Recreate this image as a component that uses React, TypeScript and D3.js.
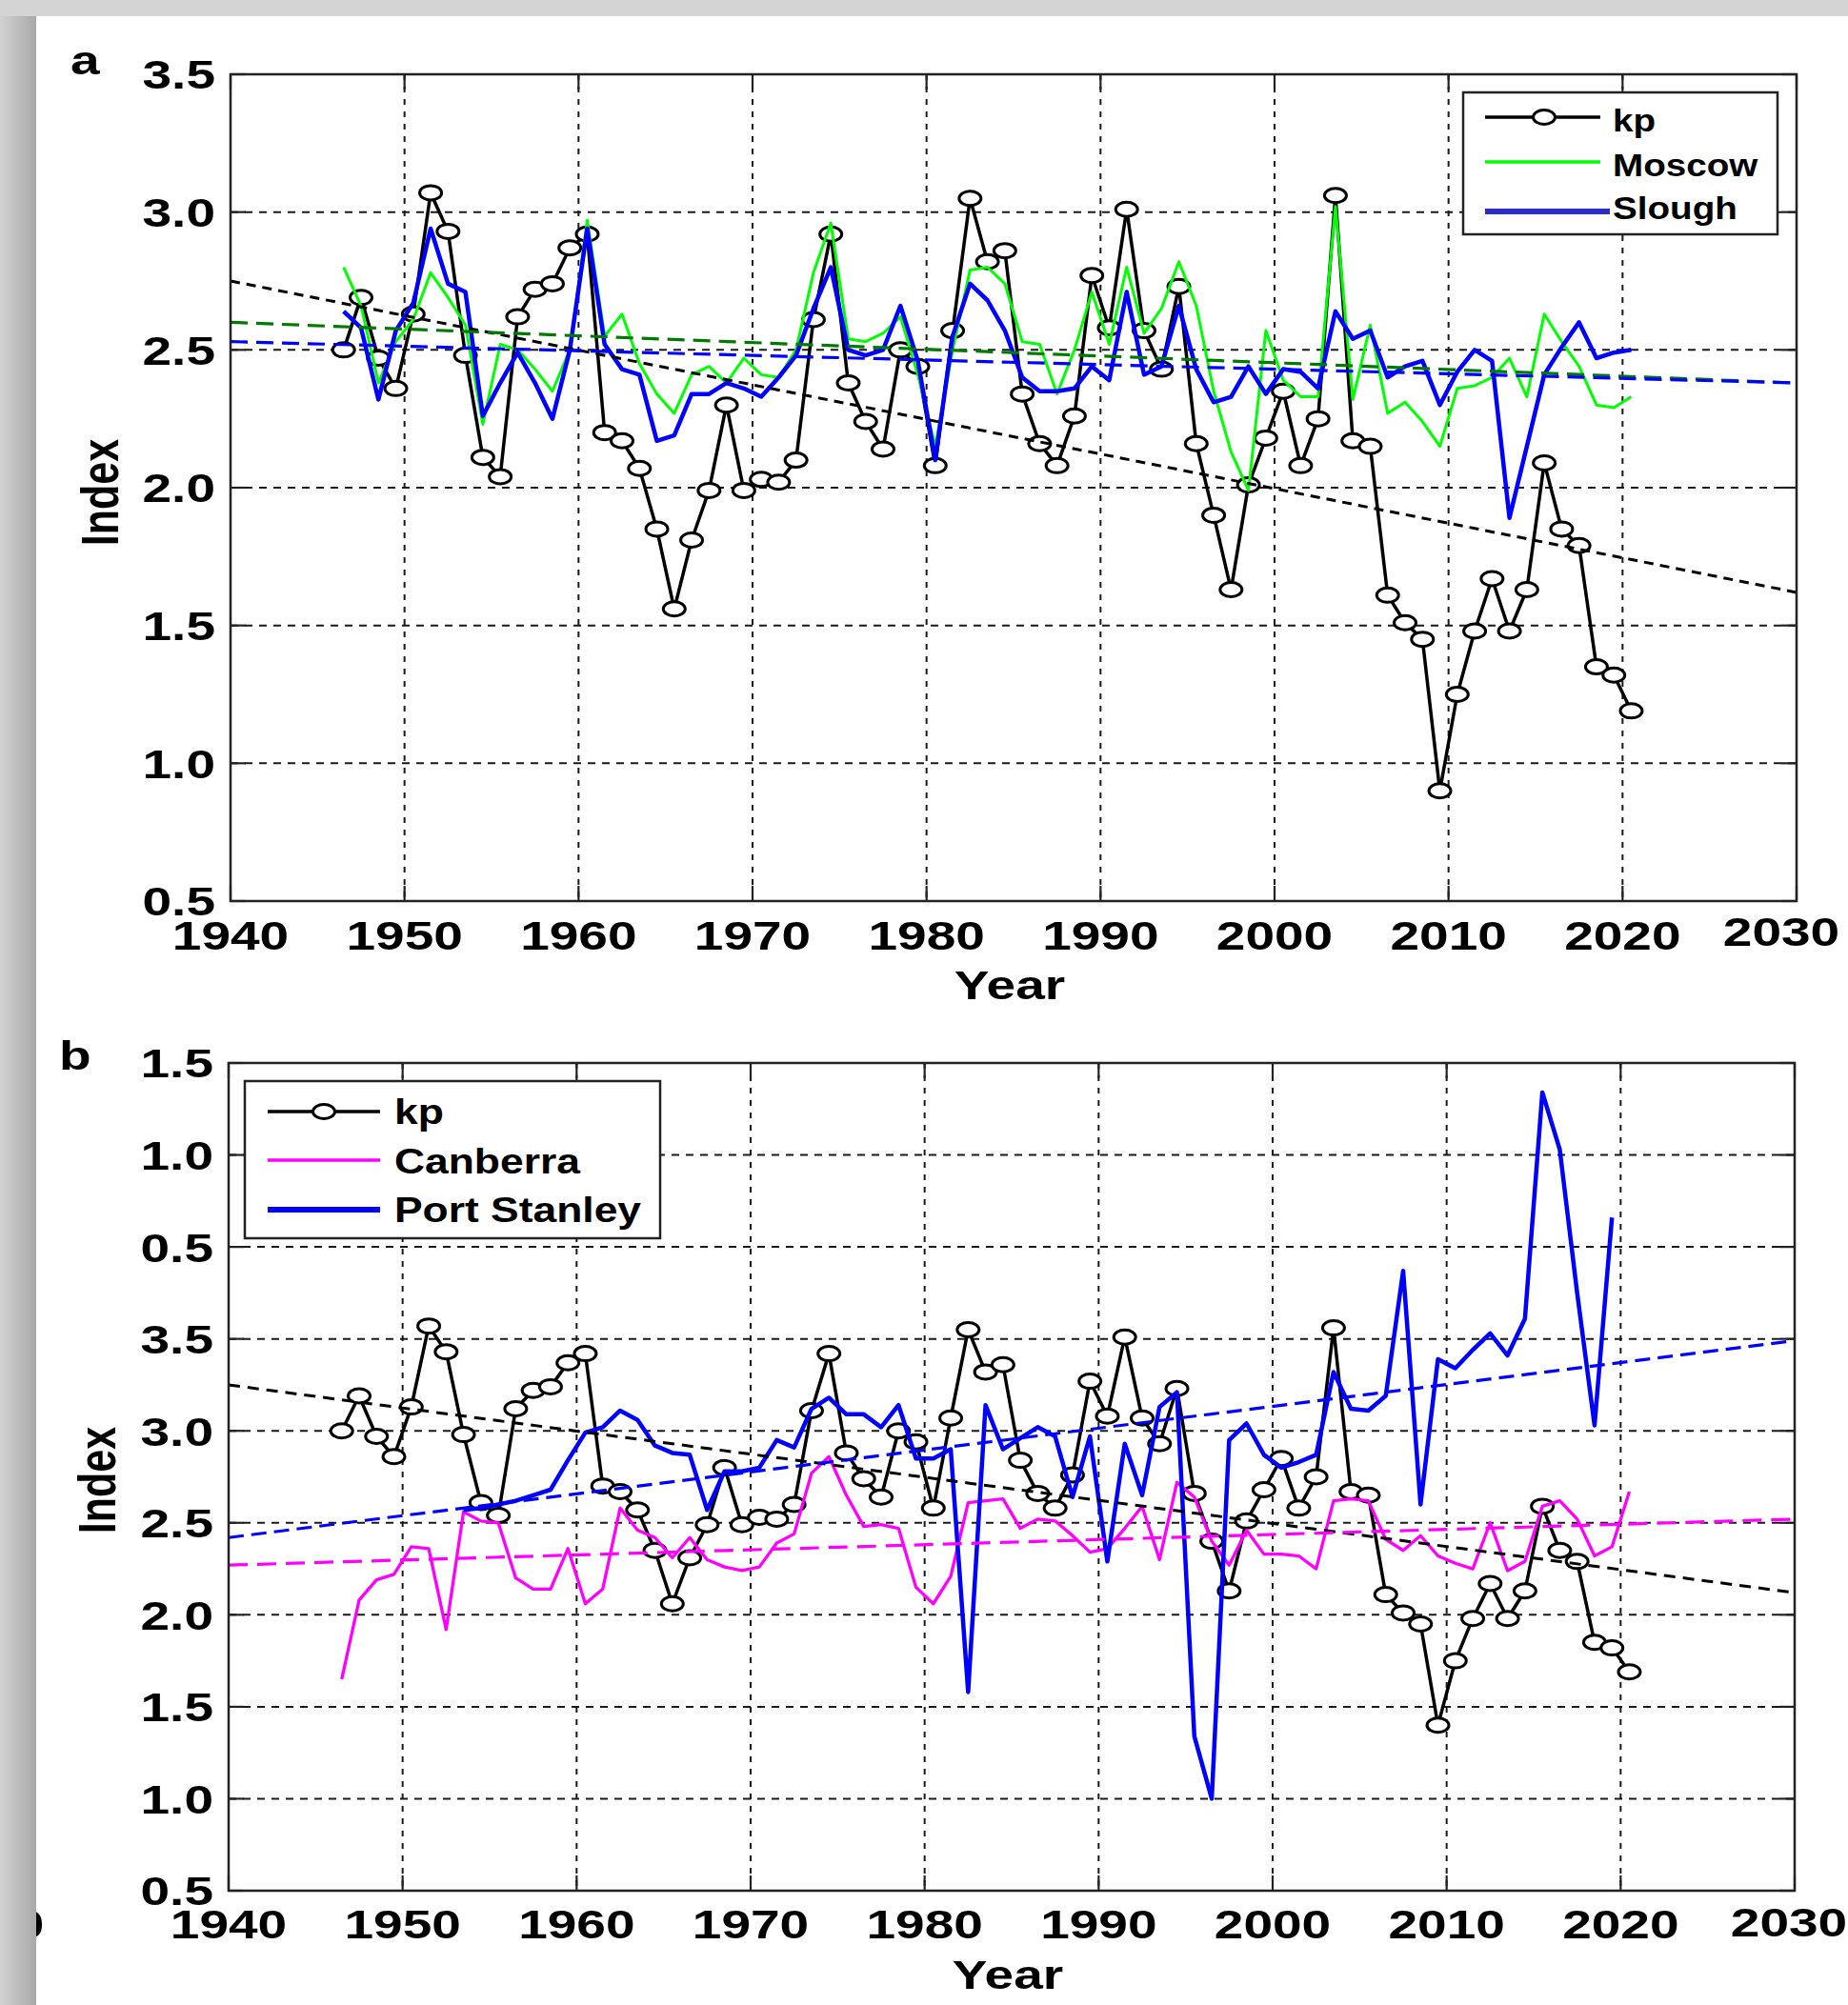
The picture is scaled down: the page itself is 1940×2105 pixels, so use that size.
import React from 'react';
import * as d3 from 'd3';

// ---------- data ----------
const years = [
  1946, 1947, 1948, 1949, 1950, 1951, 1952, 1953, 1954, 1955,
  1956, 1957, 1958, 1959, 1960, 1961, 1962, 1963, 1964, 1965,
  1966, 1967, 1968, 1969, 1970, 1971, 1972, 1973, 1974, 1975,
  1976, 1977, 1978, 1979, 1980, 1981, 1982, 1983, 1984, 1985,
  1986, 1987, 1988, 1989, 1990, 1991, 1992, 1993, 1994, 1995,
  1996, 1997, 1998, 1999, 2000, 2001, 2002, 2003, 2004, 2005,
  2006, 2007, 2008, 2009, 2010, 2011, 2012, 2013, 2014, 2015,
  2016, 2017, 2018, 2019, 2020,
];

const kp = [
  2.50, 2.69, 2.47, 2.36, 2.63, 3.07, 2.93, 2.48, 2.11, 2.04,
  2.62, 2.72, 2.74, 2.87, 2.92, 2.20, 2.17, 2.07, 1.85, 1.56,
  1.81, 1.99, 2.30, 1.99, 2.03, 2.02, 2.10, 2.61, 2.92, 2.38,
  2.24, 2.14, 2.50, 2.44, 2.08, 2.57, 3.05, 2.82, 2.86, 2.34,
  2.16, 2.08, 2.26, 2.77, 2.58, 3.01, 2.57, 2.43, 2.73, 2.16,
  1.90, 1.63, 2.01, 2.18, 2.35, 2.08, 2.25, 3.06, 2.17, 2.15,
  1.61, 1.51, 1.45, 0.90, 1.25, 1.48, 1.67, 1.48, 1.63, 2.09,
  1.85, 1.79, 1.35, 1.32, 1.19,
];

const moscow = [
  2.80, 2.66, 2.38, 2.53, 2.61, 2.78, 2.69, 2.59, 2.23, 2.52,
  2.50, 2.43, 2.35, 2.50, 2.97, 2.55, 2.63, 2.45, 2.34, 2.27,
  2.41, 2.44, 2.38, 2.47, 2.41, 2.40, 2.50, 2.78, 2.96, 2.54,
  2.53, 2.56, 2.62, 2.41, 2.15, 2.50, 2.79, 2.80, 2.74, 2.53,
  2.52, 2.34, 2.50, 2.71, 2.52, 2.80, 2.56, 2.65, 2.82, 2.66,
  2.35, 2.13, 1.99, 2.57, 2.39, 2.33, 2.33, 3.02, 2.32, 2.59,
  2.27, 2.31, 2.24, 2.15, 2.36, 2.37, 2.40, 2.47, 2.33, 2.63,
  2.53, 2.44, 2.30, 2.29, 2.33,
];

const slough = [
  2.64, 2.58, 2.32, 2.57, 2.67, 2.94, 2.74, 2.71, 2.26, 2.38,
  2.49, 2.38, 2.25, 2.50, 2.94, 2.52, 2.43, 2.41, 2.17, 2.19,
  2.34, 2.34, 2.38, 2.36, 2.33, 2.40, 2.48, 2.65, 2.80, 2.50,
  2.48, 2.50, 2.66, 2.46, 2.10, 2.55, 2.74, 2.68, 2.57, 2.40,
  2.35, 2.35, 2.36, 2.44, 2.39, 2.71, 2.41, 2.44, 2.66, 2.43,
  2.31, 2.33, 2.44, 2.34, 2.43, 2.42, 2.36, 2.64, 2.54, 2.57,
  2.40, 2.44, 2.46, 2.30, 2.42, 2.50, 2.46, 1.89, 2.15, 2.41,
  2.51, 2.60, 2.47, 2.49, 2.50,
];

const canberra = [
  1.65, 2.08, 2.19, 2.22, 2.37, 2.36, 1.92, 2.56, 2.51, 2.50,
  2.20, 2.14, 2.14, 2.36, 2.06, 2.14, 2.58, 2.46, 2.42, 2.31,
  2.42, 2.30, 2.26, 2.24, 2.26, 2.39, 2.44, 2.77, 2.86, 2.65,
  2.48, 2.49, 2.47, 2.15, 2.06, 2.21, 2.61, 2.62, 2.63, 2.47,
  2.52, 2.51, 2.43, 2.34, 2.36, 2.47, 2.59, 2.30, 2.72, 2.64,
  2.40, 2.27, 2.46, 2.33, 2.33, 2.32, 2.25, 2.62, 2.63, 2.62,
  2.41, 2.35, 2.43, 2.32, 2.28, 2.25, 2.50, 2.24, 2.29, 2.59,
  2.62, 2.52, 2.32, 2.37, 2.67,
];

// Port Stanley covers 1953..2019
const stanleyYears = years.slice(7, 74);
const portStanley = [
  2.57, 2.58, 2.60, 2.62, 2.65, 2.68, 2.84, 2.99, 3.02, 3.11,
  3.06, 2.92, 2.88, 2.87, 2.57, 2.78, 2.78, 2.80, 2.95, 2.91,
  3.12, 3.18, 3.09, 3.09, 3.02, 3.14, 2.85, 2.85, 2.90, 1.58,
  3.14, 2.90, 2.96, 3.02, 2.97, 2.64, 2.97, 2.29, 2.93, 2.65,
  3.13, 3.21, 1.34, 1.00, 2.95, 3.04, 2.87, 2.80, 2.83, 2.87,
  3.32, 3.12, 3.11, 3.19, 3.87, 2.60, 3.39, 3.34, 3.44, 3.53,
  3.41, 3.61, 4.84, 4.53, 3.75, 3.03, 4.16,
];

// kp is drawn 0.5 higher in panel b
const kpOffsetB = 0.5;

// linear trend lines (values at 1940 and 2030)
const trendYears = [1940, 2030];
const kpTrendA = [2.75, 1.62];
const moscowTrend = [2.60, 2.38];
const sloughTrend = [2.53, 2.38];
const kpTrendB = [3.25, 2.12];
const canberraTrend = [2.27, 2.52];
const stanleyTrend = [2.42, 3.49];

const xTicks = [1940, 1950, 1960, 1970, 1980, 1990, 2000, 2010, 2020, 2030];
const yTicksA = [0.5, 1.0, 1.5, 2.0, 2.5, 3.0, 3.5];
const yTickLabelsA = ['0.5', '1.0', '1.5', '2.0', '2.5', '3.0', '3.5'];
const yTicksB = [0.5, 1.0, 1.5, 2.0, 2.5, 3.0, 3.5, 4.0, 4.5, 5.0];
const yTickLabelsB = ['0.5', '1.0', '1.5', '2.0', '2.5', '3.0', '3.5', '0.5', '1.0', '1.5'];

const legendA = ['kp', 'Moscow', 'Slough'];
const legendB = ['kp', 'Canberra', 'Port Stanley'];

// ---------- styling ----------
const FONT = "'Liberation Sans', Arial, Helvetica, sans-serif";
const SX = 1.28;
const TICK_FS = 43;
const MID = 0.5; // points plotted at mid-year

type Txt = {
  x: number; y: number; size?: number; anchor?: string; sx?: number; rot?: boolean; children: React.ReactNode;
};
function T({ x, y, size = TICK_FS, anchor = 'middle', sx = SX, rot = false, children }: Txt) {
  const tr = `translate(${x},${y}) scale(${sx},1)` + (rot ? ' rotate(-90)' : '');
  return (
    <text transform={tr} textAnchor={anchor} fontSize={size} fontWeight="bold" fontFamily={FONT} fill="#000">
      {children}
    </text>
  );
}

type Series = {
  xs: number[]; ys: number[]; color: string; width: number; markers?: boolean;
};
type Trend = { ys: number[]; color: string; width: number; dash: string };
type LegendItem = { label: string; color: string; width: number; marker?: boolean; x2?: number };

type PanelProps = {
  box: { left: number; right: number; top: number; bottom: number };
  yDomain: [number, number];
  yTicks: number[];
  yLabels: string[];
  series: Series[];
  trends: Trend[];
  legend: {
    x: number; y: number; w: number; h: number; lx1: number; lx2: number; mx: number; tx: number;
    rows: number[]; bases: number[]; fs: number; sx: number; items: LegendItem[];
  };
  letter: string; letterX: number; letterY: number;
  xLabelBase: number; yearBase: number; indexX: number; indexY: number;
  lastDx: number; lastDy: number;
};

function Panel(p: PanelProps) {
  const { box } = p;
  const x = d3.scaleLinear().domain([1940, 2030]).range([box.left, box.right]);
  const y = d3.scaleLinear().domain(p.yDomain).range([box.bottom, box.top]);
  const line = d3
    .line<[number, number]>()
    .x((d) => x(d[0]))
    .y((d) => y(d[1]));
  const TL = 16;
  const L = p.legend;
  return (
    <g>
      {/* grid */}
      {xTicks.slice(1, -1).map((t) => (
        <line key={'gx' + t} x1={x(t)} x2={x(t)} y1={box.top} y2={box.bottom} stroke="#1a1a1a" strokeWidth={2} strokeDasharray="6 7" />
      ))}
      {p.yTicks.slice(1, -1).map((t) => (
        <line key={'gy' + t} x1={box.left} x2={box.right} y1={y(t)} y2={y(t)} stroke="#1a1a1a" strokeWidth={2} strokeDasharray="8 7" />
      ))}
      {/* ticks */}
      {xTicks.map((t) => (
        <g key={'tx' + t}>
          <line x1={x(t)} x2={x(t)} y1={box.bottom} y2={box.bottom - TL} stroke="#222" strokeWidth={2.2} />
          <line x1={x(t)} x2={x(t)} y1={box.top} y2={box.top + TL} stroke="#222" strokeWidth={2.2} />
        </g>
      ))}
      {p.yTicks.map((t) => (
        <g key={'ty' + t}>
          <line x1={box.left} x2={box.left + TL} y1={y(t)} y2={y(t)} stroke="#222" strokeWidth={2.2} />
          <line x1={box.right} x2={box.right - TL} y1={y(t)} y2={y(t)} stroke="#222" strokeWidth={2.2} />
        </g>
      ))}
      {/* series */}
      {p.series.map((s, i) => {
        const pts: [number, number][] = s.xs.map((xv, j) => [xv + MID, s.ys[j]]);
        return (
          <g key={'s' + i}>
            <path d={line(pts) || ''} fill="none" stroke={s.color} strokeWidth={s.width} strokeLinejoin="round" />
            {s.markers &&
              pts.map((d, j) => (
                <ellipse key={j} cx={x(d[0])} cy={y(d[1])} rx={11.5} ry={7.5} fill="#fff" stroke={s.color} strokeWidth={3} />
              ))}
          </g>
        );
      })}
      {/* trends */}
      {p.trends.map((t, i) => {
        const pts: [number, number][] = trendYears.map((yr, j) => [yr, t.ys[j]]);
        return <path key={'t' + i} d={line(pts) || ''} fill="none" stroke={t.color} strokeWidth={t.width} strokeDasharray={t.dash} />;
      })}
      {/* box */}
      <rect x={box.left} y={box.top} width={box.right - box.left} height={box.bottom - box.top} fill="none" stroke="#222" strokeWidth={2.5} />
      {/* legend */}
      <rect x={L.x} y={L.y} width={L.w} height={L.h} fill="#fff" stroke="#222" strokeWidth={2.5} />
      {L.items.map((it, i) => (
        <g key={'l' + i}>
          <line x1={L.lx1} x2={it.x2 ?? L.lx2} y1={L.rows[i]} y2={L.rows[i]} stroke={it.color} strokeWidth={it.width} />
          {it.marker && <ellipse cx={L.mx} cy={L.rows[i]} rx={11.5} ry={7.5} fill="#fff" stroke={it.color} strokeWidth={3} />}
          <T x={L.tx} y={L.bases[i]} size={L.fs} sx={L.sx} anchor="start">
            {it.label}
          </T>
        </g>
      ))}
      {/* tick labels */}
      {xTicks.map((t, i) => (
        <T key={'xl' + t} x={x(t) + (i === xTicks.length - 1 ? p.lastDx : 0)} y={p.xLabelBase + (i === xTicks.length - 1 ? p.lastDy : 0)}>
          {String(t)}
        </T>
      ))}
      {p.yTicks.map((t, i) => (
        <T key={'yl' + i} x={box.left - 16} y={y(t) + 0.358 * TICK_FS} anchor="end">
          {p.yLabels[i]}
        </T>
      ))}
      <T x={(box.left + box.right) / 2 - 4} y={p.yearBase}>Year</T>
      <T x={p.indexX} y={p.indexY} rot>Index</T>
      <T x={p.letterX} y={p.letterY} anchor="start">{p.letter}</T>
    </g>
  );
}

export default function App() {
  const W = 1940;
  const H = 2105;
  const kpB = kp.map((v) => v + kpOffsetB);
  return (
    <svg width={W} height={H} viewBox={`0 0 ${W} ${H}`} style={{ position: 'absolute', left: 0, top: 0, background: '#fff' }}>
      <defs>
        <linearGradient id="leftStrip" x1="0" x2="1" y1="0" y2="0">
          <stop offset="0" stopColor="#d2d2d2" />
          <stop offset="1" stopColor="#a8a8a8" />
        </linearGradient>
      </defs>
      <rect x={0} y={0} width={W} height={H} fill="#fff" />
      <Panel
        box={{ left: 242, right: 1886, top: 78, bottom: 946 }}
        yDomain={[0.5, 3.5]}
        yTicks={yTicksA}
        yLabels={yTickLabelsA}
        series={[
          { xs: years, ys: kp, color: '#000', width: 3.5, markers: true },
          { xs: years, ys: moscow, color: '#00ff00', width: 3 },
          { xs: years, ys: slough, color: '#0000ff', width: 4.5 },
        ]}
        trends={[
          { ys: kpTrendA, color: '#000', width: 3, dash: '10 7' },
          { ys: moscowTrend, color: '#007a00', width: 3.2, dash: '18 9' },
          { ys: sloughTrend, color: '#0000ff', width: 3.2, dash: '18 9' },
        ]}
        legend={{
          x: 1536, y: 97, w: 330, h: 149, lx1: 1559, lx2: 1680, mx: 1621, tx: 1693,
          rows: [123, 170, 222], bases: [138, 185, 230], fs: 33, sx: 1.17,
          items: [
            { label: legendA[0], color: '#000', width: 3.5, marker: true },
            { label: legendA[1], color: '#00ff00', width: 3.5 },
            { label: legendA[2], color: '#2a2ad0', width: 6, x2: 1690 },
          ],
        }}
        letter="a" letterX={74} letterY={78}
        xLabelBase={997} yearBase={1049} indexX={124} indexY={517}
        lastDx={-16} lastDy={-4}
      />
      <Panel
        box={{ left: 240, right: 1884, top: 1116, bottom: 1985 }}
        yDomain={[0.5, 5.0]}
        yTicks={yTicksB}
        yLabels={yTickLabelsB}
        series={[
          { xs: years, ys: kpB, color: '#000', width: 3.5, markers: true },
          { xs: years, ys: canberra, color: '#ff00ff', width: 3.3 },
          { xs: stanleyYears, ys: portStanley, color: '#0000ff', width: 4.5 },
        ]}
        trends={[
          { ys: kpTrendB, color: '#000', width: 3, dash: '12 8' },
          { ys: canberraTrend, color: '#ff00ff', width: 3.2, dash: '20 10' },
          { ys: stanleyTrend, color: '#0000ff', width: 3.2, dash: '16 8' },
        ]}
        legend={{
          x: 257, y: 1135, w: 436, h: 165, lx1: 281, lx2: 399, mx: 340, tx: 414,
          rows: [1167, 1218, 1270], bases: [1180, 1232, 1283], fs: 37, sx: 1.2,
          items: [
            { label: legendB[0], color: '#000', width: 3.5, marker: true },
            { label: legendB[1], color: '#ff00ff', width: 3.5 },
            { label: legendB[2], color: '#0000ff', width: 6 },
          ],
        }}
        letter="b" letterX={62} letterY={1123}
        xLabelBase={2035} yearBase={2088} indexX={121} indexY={1554}
        lastDx={-6} lastDy={-2}
      />
      {/* clipped remnant label at the left border */}
      <T x={31} y={2035}>0</T>
      {/* page border strips */}
      <rect x={0} y={17} width={38} height={H - 17} fill="url(#leftStrip)" />
      <rect x={0} y={0} width={W} height={17} fill="#d4d4d4" />
    </svg>
  );
}
